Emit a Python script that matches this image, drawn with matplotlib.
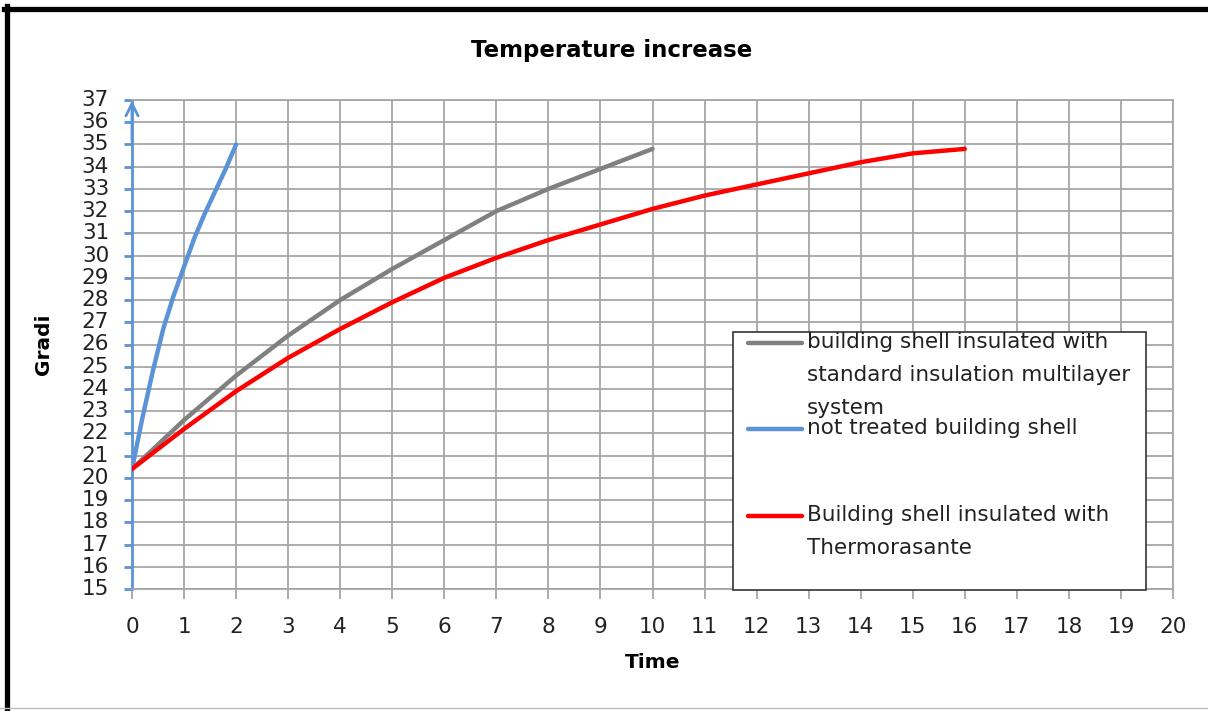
import numpy as np
import matplotlib
matplotlib.use('Agg')
import matplotlib.pyplot as plt
from matplotlib.lines import Line2D
from matplotlib.patches import Rectangle

# -------------------------------------------------------
# DATA
# -------------------------------------------------------
time_blue = [0, 0.2, 0.4, 0.6, 0.8, 1.0, 1.2, 1.4, 1.6, 1.8, 2.0]
temp_blue = [20.4, 22.7, 24.8, 26.7, 28.2, 29.5, 30.8, 31.9, 32.9, 33.9, 35.0]

time_gray = [0, 1, 2, 3, 4, 5, 6, 7, 8, 9, 10]
temp_gray = [20.4, 22.6, 24.6, 26.4, 28.0, 29.4, 30.7, 32.0, 33.0, 33.9, 34.8]

time_red = [0, 1, 2, 3, 4, 5, 6, 7, 8, 9, 10, 11, 12, 13, 14, 15, 16]
temp_red = [20.4, 22.2, 23.9, 25.4, 26.7, 27.9, 29.0, 29.9, 30.7, 31.4,
            32.1, 32.7, 33.2, 33.7, 34.2, 34.6, 34.8]

label_gray = ["building shell insulated with",
              "standard insulation multilayer",
              "system"]
label_blue = ["not treated building shell"]
label_red = ["Building shell insulated with", "Thermorasante"]

x_ticks = list(range(0, 21))
y_ticks = list(range(15, 38))

BLUE = '#5B93D7'
GRAY = '#808080'
RED = '#FF0000'
GRID = '#A6A6A6'

W, H = 1208, 711


def px(x, y):
    """Ubah koordinat piksel ke koordinat figure."""
    return x / W, 1 - y / H


fig = plt.figure(figsize=(W / 100, H / 100), dpi=100)
ax = fig.add_axes([132 / W, 1 - 589 / H, (1173 - 132) / W, (589 - 100) / H])

ax.plot(time_gray, temp_gray, color=GRAY, lw=3.2, solid_capstyle='round',
        solid_joinstyle='round', zorder=3)
ax.plot(time_blue, temp_blue, color=BLUE, lw=3.2, solid_capstyle='round',
        solid_joinstyle='round', zorder=3)
ax.plot(time_red, temp_red, color=RED, lw=3.2, solid_capstyle='round',
        solid_joinstyle='round', zorder=3)

ax.set_xlim(0, 20)
ax.set_ylim(15, 37)
ax.set_xticks(x_ticks)
ax.set_yticks(y_ticks)
ax.grid(True, color=GRID, lw=1.3)
ax.set_axisbelow(True)

for side in ['top', 'right', 'bottom']:
    ax.spines[side].set_color(GRID)
    ax.spines[side].set_linewidth(1.3)
ax.spines['left'].set_color(BLUE)
ax.spines['left'].set_linewidth(2)

ax.tick_params(axis='x', length=7, width=1.3, color=GRID, pad=13,
               labelsize=15.5, labelcolor='#222222')
ax.tick_params(axis='y', length=6, width=2, color=BLUE, pad=10.5,
               labelsize=15.5, labelcolor='#222222')
for lab in ax.get_yticklabels():
    lab.set_verticalalignment('center')

# Panah di ujung sumbu Y
ax.annotate('', xy=(0, 37.1), xytext=(0, 35.0),
            arrowprops=dict(arrowstyle='->', color=BLUE, lw=2,
                            mutation_scale=22),
            annotation_clip=False)

ax.set_xlabel('Time', fontsize=14.5, fontweight='bold')
ax.xaxis.set_label_coords(0.5, -(653 - 589) / (589 - 100))
ax.set_ylabel('Gradi', fontsize=14.5, fontweight='bold')
ax.yaxis.set_label_coords(-(132 - 53) / (1173 - 132), 0.5)

fig.text(*px(612, 50), 'Temperature increase', fontsize=16.5,
         fontweight='bold', ha='center', va='center')

# -------------------------------------------------------
# LEGEND (kotak manual)
# -------------------------------------------------------
lx0, ly0 = px(733, 590)
lx1, ly1 = px(1146, 332)
fig.add_artist(Rectangle((lx0, ly0), lx1 - lx0, ly1 - ly0,
                         transform=fig.transFigure, facecolor='white',
                         edgecolor='#333333', lw=1.2, zorder=5))

rows = [(GRAY, label_gray, 342), (BLUE, label_blue, 428), (RED, label_red, 515)]
for color, lines, y0 in rows:
    a, b = px(748, y0 + 1)
    c, _ = px(802, y0 + 1)
    fig.add_artist(Line2D([a, c], [b, b], transform=fig.transFigure,
                          color=color, lw=3.2, solid_capstyle='round', zorder=6))
    for i, txt in enumerate(lines):
        fig.text(*px(807, y0 + i * 33), txt, fontsize=15.5, color='#222222',
                 ha='left', va='center', zorder=7)

# -------------------------------------------------------
# BINGKAI
# -------------------------------------------------------
fig.add_artist(Line2D([6.5 / W, 6.5 / W], [0, 1 - 6 / H], transform=fig.transFigure,
                      color='black', lw=3.8))
fig.add_artist(Line2D([4 / W, 1], [1 - 8.5 / H, 1 - 8.5 / H], transform=fig.transFigure,
                      color='black', lw=3.8))
fig.add_artist(Line2D([0, 1], [1 - 708 / H, 1 - 708 / H], transform=fig.transFigure,
                      color='#BBBBBB', lw=1))

plt.savefig('out.png', dpi=100)
plt.close()
